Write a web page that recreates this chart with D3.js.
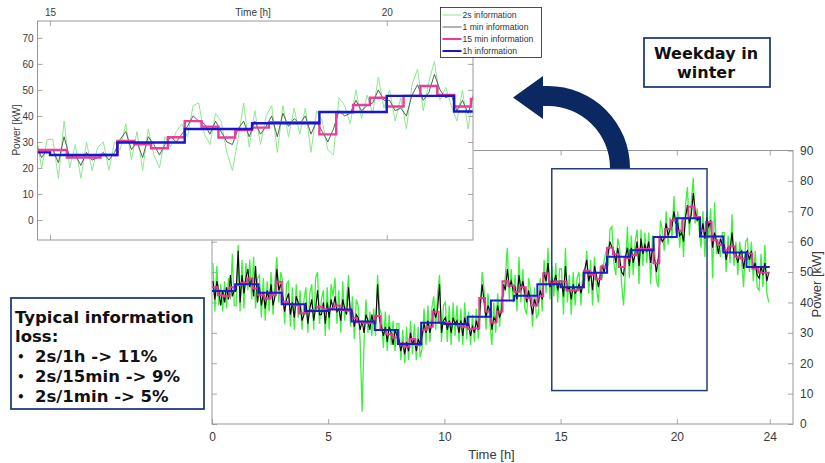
<!DOCTYPE html>
<html>
<head>
<meta charset="utf-8">
<script src="https://cdn.jsdelivr.net/npm/d3@7"></script>
<style>
  html, body { margin: 0; padding: 0; background: #fff; }
  svg { display: block; }
</style>
</head>
<body>
<svg id="chart" width="825" height="463"></svg>
<script>
// ---- Load profile of a winter weekday (kW) ----
// Hourly averages, 00:00 .. 23:00
const hourly = [43.8, 46, 43.2, 39.4, 37.2, 37.7, 33.7, 30.9, 26.3, 33.3, 32.9, 35.3,
                40.6, 42.2, 46, 45, 49.8, 55, 57.2, 61.5, 67.7, 61.7, 56.4, 51.7];

// Quarter-hour averages, 96 values
const quarterHourly = [
  45, 42.4, 42, 45,        45.7, 46.5, 47.9, 44.6,   42.4, 41.3, 42.4, 46.8,   40.2, 39.5, 39.1, 36.4,
  37, 37.5, 38.6, 37.8,    38, 39, 37.5, 37.3,       34.8, 33.5, 33.2, 33.3,   35.5, 31, 29.5, 28.5,
  26.5, 25.4, 28, 26,      31, 32, 36.9, 33.5,       33.3, 32.8, 32.5, 32,     31.3, 31.5, 41.5, 37,
  33.5, 37, 47, 45.5,      43.5, 45, 41.5, 39,       42, 49.5, 46.5, 46.9,     46.9, 44, 44, 45,
  50.4, 49.1, 47.6, 51.8,  58, 55.9, 51.7, 54.6,     55.5, 57.6, 57.6, 57.6,   52.9, 61.4, 64.2, 67,
  63.6, 67.7, 71.5, 68.1,  63.6, 66.5, 60.5, 58.9,   57.2, 58.5, 55, 54.5,     56.1, 51.2, 49.8, 49.8
];

// 1-min trace, one point every 5 minutes (12 per hour)
const oneMinute = [
  47, 41, 47, 44, 39, 44, 40, 45, 41, 49, 42, 44,
  44, 57, 40, 49, 43, 48, 51, 45, 48, 42, 52, 40,
  45, 39, 43, 38, 44, 41, 46, 39, 42, 51, 44, 46,
  42, 37, 41, 43, 36, 40, 35, 42, 40, 39, 34, 36,
  40, 33, 38, 41, 34, 38, 44, 36, 36, 40, 33, 40,
  35, 41, 38, 42, 37, 38, 34, 41, 38, 36, 45, 36,
  37, 32, 36, 35, 31, 34, 30, 36, 34, 31, 36, 33,
  33, 46, 34, 32, 29, 32, 27, 32, 30, 26, 31, 29,
  28, 24, 27, 23, 27, 24, 30, 26, 28, 24, 28, 26,
  29, 33, 30, 34, 30, 33, 38, 35, 38, 46, 30, 34,
  35, 31, 34, 30, 35, 33, 34, 30, 34, 29, 35, 32,
  33, 29, 32, 30, 34, 31, 39, 46, 40, 35, 39, 37,
  31, 35, 34, 39, 35, 37, 46, 44, 51, 45, 47, 44,
  45, 41, 49, 44, 47, 43, 40, 44, 40, 36, 41, 39,
  40, 44, 41, 50, 47, 53, 45, 48, 46, 49, 44, 47,
  47, 42, 52, 44, 45, 41, 46, 43, 44, 46, 43, 46,
  51, 54, 47, 50, 44, 52, 49, 45, 49, 52, 50, 53,
  56, 60, 58, 57, 53, 58, 54, 50, 49, 55, 58, 52,
  58, 53, 56, 60, 52, 61, 56, 59, 57, 60, 53, 58,
  54, 50, 55, 62, 60, 61, 66, 62, 64, 65, 70, 66,
  66, 62, 63, 60, 68, 72, 66, 69, 76, 70, 67, 68,
  62, 66, 61, 68, 65, 67, 58, 63, 60, 56, 61, 59,
  59, 54, 58, 57, 63, 56, 56, 53, 56, 57, 51, 56,
  57, 54, 57, 51, 53, 49, 48, 52, 49, 53, 47, 50
];

// 2-s trace, same 5-minute thinning, keeping the swings
const twoSecond = [
  53, 37, 52, 39, 46, 37, 47, 38, 48, 41, 56, 39,
  39, 59, 37, 54, 38, 53, 44, 54, 41, 55, 38, 48,
  49, 35, 48, 34, 47, 37, 50, 36, 47, 55, 40, 50,
  47, 33, 46, 47, 32, 45, 31, 46, 35, 44, 31, 41,
  45, 30, 43, 46, 31, 48, 50, 33, 41, 44, 29, 45,
  31, 46, 42, 48, 33, 44, 30, 47, 34, 41, 49, 32,
  42, 28, 41, 39, 27, 4, 27, 41, 30, 37, 29, 38,
  29, 49, 38, 36, 25, 37, 24, 36, 26, 34, 24, 33,
  33, 21, 31, 20, 32, 21, 34, 23, 33, 21, 32, 22,
  25, 38, 26, 39, 27, 38, 42, 31, 43, 49, 27, 39,
  40, 27, 39, 26, 40, 29, 39, 27, 38, 26, 40, 28,
  37, 26, 36, 27, 38, 28, 36, 50, 44, 31, 43, 33,
  26, 40, 30, 43, 32, 42, 42, 49, 58, 41, 51, 40,
  49, 37, 55, 40, 51, 38, 36, 48, 44, 32, 45, 35,
  36, 48, 37, 54, 43, 58, 41, 52, 42, 53, 40, 51,
  51, 36, 58, 40, 49, 36, 50, 39, 48, 50, 39, 50,
  47, 57, 43, 54, 39, 55, 45, 40, 52, 48, 54, 57,
  52, 64, 65, 53, 49, 61, 58, 46, 39, 51, 65, 48,
  62, 49, 60, 64, 46, 64, 52, 63, 53, 63, 46, 62,
  58, 47, 45, 67, 64, 57, 70, 59, 68, 61, 75, 63,
  70, 58, 67, 55, 72, 78, 62, 73, 81, 66, 71, 64,
  58, 70, 55, 70, 61, 71, 48, 73, 56, 60, 55, 63,
  63, 50, 62, 53, 69, 52, 60, 49, 60, 53, 45, 60,
  61, 50, 60, 47, 57, 45, 44, 56, 45, 59, 43, 40
];

// Axis ticks
const mainXTicks = [0, 5, 10, 15, 20, 24];
const mainYTicks = [0, 10, 20, 30, 40, 50, 60, 70, 80, 90];
const insetXTicks = [15, 20];
const insetYTicks = [0, 10, 20, 30, 40, 50, 60, 70];

// Series names for the legend
const seriesNames = ["2s information", "1 min information", "15 min information", "1h information"];

// Evening window enlarged in the inset, and the kW offset its axis uses
const zoomWindow = { t: [14.62, 21.3], p: [11, 84] };
const insetShift = 20;

// Notes
const infoLines = ["Typical information", "loss:"];
const infoBullets = ["2s/1h -> 11%", "2s/15min -> 9%", "2s/1min -> 5%"];
const tagLines = ["Weekday in", "winter"];

// ---- helpers ----
const samplePts = arr => arr.map((v, i) => [(i + 0.5) / 12, v]);
const stepPts = (arr, dt) => arr.map((v, i) => [i * dt, v]).concat([[arr.length * dt, arr[arr.length - 1]]]);

const twoSecPts = samplePts(twoSecond);
const oneMinPts = samplePts(oneMinute);
const quarterPts = stepPts(quarterHourly, 0.25);
const hourPts = stepPts(hourly, 1);

const FONT = '"Liberation Sans", Arial, Helvetica, sans-serif';
const BOLD = '"DejaVu Sans", "Open Sans", sans-serif';
const NAVY = "#203f78";
const AXIS = "#8f8f8f";
const LABEL = "#3a3a3a";
const intFmt = d3.format("d");

const svg = d3.select("#chart");
svg.append("rect").attr("width", 825).attr("height", 463).attr("fill", "#fff");
const defs = svg.append("defs");

function styleAxis(g, size) {
  g.attr("font-family", FONT).attr("font-size", size).attr("color", AXIS);
  g.select(".domain").remove();
  g.selectAll(".tick line").attr("stroke", AXIS).attr("stroke-width", 0.8);
  g.selectAll(".tick text").attr("fill", LABEL);
}

// ================= main panel =================
const M = { left: 212, right: 793, top: 150.5, bottom: 424 };
const x = d3.scaleLinear().domain([0, 25]).range([M.left, M.right]);
const y = d3.scaleLinear().domain([0, 90]).range([M.bottom, M.top]);

defs.append("clipPath").attr("id", "clipMain").append("rect")
  .attr("x", M.left).attr("y", M.top).attr("width", M.right - M.left).attr("height", M.bottom - M.top);

const mainG = svg.append("g");
mainG.append("rect")
  .attr("x", M.left).attr("y", M.top).attr("width", M.right - M.left).attr("height", M.bottom - M.top)
  .attr("fill", "none").attr("stroke", AXIS).attr("stroke-width", 0.9);

mainG.append("g").attr("transform", `translate(0,${M.bottom})`)
  .call(d3.axisBottom(x).tickValues(mainXTicks).tickFormat(intFmt).tickSizeInner(-5).tickSizeOuter(0).tickPadding(8))
  .call(g => styleAxis(g, 12));
mainG.append("g").attr("transform", `translate(0,${M.top})`)
  .call(d3.axisTop(x).tickValues(mainXTicks).tickSizeInner(-5).tickSizeOuter(0).tickFormat(""))
  .call(g => styleAxis(g, 12));
mainG.append("g").attr("transform", `translate(${M.right},0)`)
  .call(d3.axisRight(y).tickValues(mainYTicks).tickFormat(intFmt).tickSizeInner(-5).tickSizeOuter(0).tickPadding(7))
  .call(g => styleAxis(g, 12));
mainG.append("g").attr("transform", `translate(${M.left},0)`)
  .call(d3.axisLeft(y).tickValues(mainYTicks).tickSizeInner(-5).tickSizeOuter(0).tickFormat(""))
  .call(g => styleAxis(g, 12));

mainG.append("text").attr("x", (x(0) + x(25)) / 2 - 11).attr("y", 459)
  .attr("text-anchor", "middle").attr("font-family", FONT).attr("font-size", 13).attr("fill", LABEL)
  .text("Time [h]");
mainG.append("text").attr("transform", `translate(821,${(M.top + M.bottom) / 2 - 3}) rotate(-90)`)
  .attr("text-anchor", "middle").attr("font-family", FONT).attr("font-size", 13).attr("fill", LABEL)
  .text("Power [kW]");

const lineMain = d3.line().x(d => x(d[0])).y(d => y(d[1]));
const stepMain = d3.line().x(d => x(d[0])).y(d => y(d[1])).curve(d3.curveStepAfter);
const dataMain = mainG.append("g").attr("clip-path", "url(#clipMain)").attr("fill", "none");
dataMain.append("path").attr("d", lineMain(twoSecPts)).attr("stroke", "#3ef03e").attr("stroke-width", 1.3);
dataMain.append("path").attr("d", lineMain(oneMinPts)).attr("stroke", "#0a0a0a").attr("stroke-width", 1.15);
dataMain.append("path").attr("d", stepMain(quarterPts)).attr("stroke", "#e4399a").attr("stroke-width", 2);
dataMain.append("path").attr("d", stepMain(hourPts)).attr("stroke", "#1b1bcf").attr("stroke-width", 2);

// window shown enlarged in the inset
mainG.append("rect")
  .attr("x", x(zoomWindow.t[0])).attr("y", y(zoomWindow.p[1]))
  .attr("width", x(zoomWindow.t[1]) - x(zoomWindow.t[0]))
  .attr("height", y(zoomWindow.p[0]) - y(zoomWindow.p[1]))
  .attr("fill", "none").attr("stroke", NAVY).attr("stroke-width", 1.5);

// ================= inset panel =================
const I = { left: 37.5, right: 473, top: 21, bottom: 240 };
const xIn = d3.scaleLinear().domain([14.814, 21.281]).range([I.left, I.right]);
const yIn = d3.scaleLinear().domain([-7.7, 76.5]).range([I.bottom, I.top]);

const insetG = svg.append("g");
insetG.append("rect").attr("x", 0).attr("y", 0).attr("width", I.right + 0.5).attr("height", I.bottom + 0.5)
  .attr("fill", "#fff");

defs.append("clipPath").attr("id", "clipInset").append("rect")
  .attr("x", I.left).attr("y", I.top).attr("width", I.right - I.left).attr("height", I.bottom - I.top);

const lineIn = d3.line().x(d => xIn(d[0])).y(d => yIn(d[1] - insetShift));
const stepIn = d3.line().x(d => xIn(d[0])).y(d => yIn(d[1] - insetShift)).curve(d3.curveStepAfter);
const dataIn = insetG.append("g").attr("clip-path", "url(#clipInset)").attr("fill", "none");
dataIn.append("path").attr("d", lineIn(twoSecPts)).attr("stroke", "#8ee88e").attr("stroke-width", 1);
dataIn.append("path").attr("d", lineIn(oneMinPts)).attr("stroke", "#3d553d").attr("stroke-width", 0.9);
dataIn.append("path").attr("d", stepIn(quarterPts)).attr("stroke", "#ec3c9b").attr("stroke-width", 2.4);
dataIn.append("path").attr("d", stepIn(hourPts)).attr("stroke", "#1616d4").attr("stroke-width", 2.4);

insetG.append("rect")
  .attr("x", I.left).attr("y", I.top).attr("width", I.right - I.left).attr("height", I.bottom - I.top)
  .attr("fill", "none").attr("stroke", AXIS).attr("stroke-width", 0.9);

insetG.append("g").attr("transform", `translate(${I.left},0)`)
  .call(d3.axisLeft(yIn).tickValues(insetYTicks).tickFormat(intFmt).tickSizeInner(-5).tickSizeOuter(0).tickPadding(4))
  .call(g => styleAxis(g, 10));
insetG.append("g").attr("transform", `translate(${I.right},0)`)
  .call(d3.axisRight(yIn).tickValues(insetYTicks).tickSizeInner(-5).tickSizeOuter(0).tickFormat(""))
  .call(g => styleAxis(g, 10));
insetG.append("g").attr("transform", `translate(0,${I.top})`)
  .call(d3.axisTop(xIn).tickValues(insetXTicks).tickFormat(intFmt).tickSizeInner(-5).tickSizeOuter(0).tickPadding(5))
  .call(g => styleAxis(g, 10));
insetG.append("g").attr("transform", `translate(0,${I.bottom})`)
  .call(d3.axisBottom(xIn).tickValues(insetXTicks).tickSizeInner(-5).tickSizeOuter(0).tickFormat(""))
  .call(g => styleAxis(g, 10));

insetG.append("text").attr("x", 253).attr("y", 16).attr("text-anchor", "middle")
  .attr("font-family", FONT).attr("font-size", 10).attr("fill", LABEL).text("Time [h]");
insetG.append("text").attr("transform", "translate(20,130) rotate(-90)").attr("text-anchor", "middle")
  .attr("font-family", FONT).attr("font-size", 10).attr("fill", LABEL).text("Power [kW]");

// legend
const legendStyles = [
  { color: "#8ee68e", width: 1 },
  { color: "#666", width: 1 },
  { color: "#ec3c9b", width: 2 },
  { color: "#1616d4", width: 2 }
];
const legG = svg.append("g").attr("transform", "translate(440.5,7.5)");
legG.append("rect").attr("width", 101).attr("height", 50).attr("fill", "#fff")
  .attr("stroke", "#222").attr("stroke-width", 0.8);
seriesNames.forEach((name, i) => {
  const cy = 7.5 + i * 12;
  legG.append("line").attr("x1", 2).attr("x2", 21).attr("y1", cy).attr("y2", cy)
    .attr("stroke", legendStyles[i].color).attr("stroke-width", legendStyles[i].width);
  legG.append("text").attr("x", 22).attr("y", cy + 3).attr("font-family", FONT)
    .attr("font-size", 8.6).attr("fill", "#333").text(name);
});

// ================= annotations =================
// curved arrow from the window up-left towards the inset
const arrowPath = [
  "M 630 168",
  "A 82 82 0 0 0 548 86",
  "L 543 86 L 543 76 L 513 97.5 L 543 119 L 543 106 L 548 106",
  "A 62 62 0 0 1 610 168 Z"
].join(" ");
svg.append("path").attr("d", arrowPath).attr("fill", "#0b2863");

// tag box
svg.append("rect").attr("x", 644).attr("y", 38).attr("width", 126).attr("height", 49)
  .attr("fill", "#fff").attr("stroke", NAVY).attr("stroke-width", 1.8);
tagLines.forEach((t, i) => {
  svg.append("text").attr("x", 706).attr("y", 58.5 + i * 19.5).attr("text-anchor", "middle")
    .attr("font-family", BOLD).attr("font-weight", "bold").attr("font-size", 16).attr("fill", "#111")
    .text(t);
});

// information-loss box
svg.append("rect").attr("x", 11).attr("y", 298).attr("width", 193).attr("height", 111)
  .attr("fill", "#fff").attr("stroke", NAVY).attr("stroke-width", 1.8);
infoLines.forEach((t, i) => {
  svg.append("text").attr("x", 15).attr("y", 323 + i * 19).attr("font-family", BOLD)
    .attr("font-weight", "bold").attr("font-size", 16.5).attr("fill", "#111").text(t);
});
infoBullets.forEach((t, i) => {
  const by = 362 + i * 20;
  svg.append("text").attr("x", 17).attr("y", by - 1).attr("font-family", BOLD)
    .attr("font-weight", "bold").attr("font-size", 12).attr("fill", "#111").text("\u2022");
  svg.append("text").attr("x", 35).attr("y", by).attr("font-family", BOLD)
    .attr("font-weight", "bold").attr("font-size", 16.5).attr("fill", "#111").text(t);
});
</script>
</body>
</html>
